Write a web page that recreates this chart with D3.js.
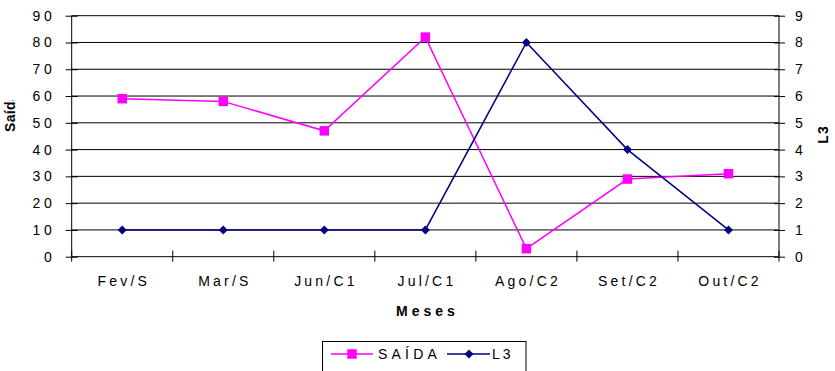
<!DOCTYPE html>
<html>
<head>
<meta charset="utf-8">
<script src="https://cdn.jsdelivr.net/npm/d3@7"></script>
<style>
  html, body { margin: 0; padding: 0; background: #fff; }
  svg { display: block; font-family: "Liberation Sans", Arial, sans-serif; }
</style>
</head>
<body>
<svg id="chart" width="835" height="371"></svg>
<script>
const categories = ["Fev/S", "Mar/S", "Jun/C1", "Jul/C1", "Ago/C2", "Set/C2", "Out/C2"];
const saidaValues = [59, 58, 47, 82, 3, 29, 31];
const l3Values = [1, 1, 1, 1, 8, 4, 1];
const leftTicks = [0, 10, 20, 30, 40, 50, 60, 70, 80, 90];
const rightTicks = [0, 1, 2, 3, 4, 5, 6, 7, 8, 9];

const svg = d3.select("#chart");
const L = 71.7, R = 779, T = 15.7, B = 256.7;

const x = d3.scaleBand().domain(categories).range([L, R]);
const yL = d3.scaleLinear().domain([0, 90]).range([B, T]);
const yR = d3.scaleLinear().domain([0, 9]).range([B, T]);

// gridlines
svg.append("g").selectAll("line").data(leftTicks.slice(1)).join("line")
  .attr("x1", L).attr("x2", R)
  .attr("y1", d => yL(d)).attr("y2", d => yL(d))
  .attr("stroke", "#000").attr("stroke-width", 1);

const tickStyle = g => {
  g.select(".domain").remove();
  g.selectAll(".tick line").attr("stroke", "#000");
  g.selectAll(".tick text").attr("fill", "#000")
    .style("font-size", "14px").style("letter-spacing", "3.5px");
};

// left axis
svg.append("g").attr("transform", `translate(${L},0)`)
  .call(d3.axisLeft(yL).tickValues(leftTicks).tickSize(6).tickPadding(14))
  .call(tickStyle)
  .call(g => g.selectAll(".tick line").attr("x2", 6).attr("x1", -6))
  .call(g => g.selectAll(".tick text").attr("dx", "3.5px"));

// right axis
svg.append("g").attr("transform", `translate(${R},0)`)
  .call(d3.axisRight(yR).tickValues(rightTicks).tickSize(6).tickPadding(10))
  .call(tickStyle)
  .call(g => g.selectAll(".tick line").attr("x1", -5).attr("x2", 6));

// axis lines
svg.append("line").attr("x1", L).attr("x2", L).attr("y1", T).attr("y2", B).attr("stroke", "#000");
svg.append("line").attr("x1", R).attr("x2", R).attr("y1", T).attr("y2", B).attr("stroke", "#000");
svg.append("line").attr("x1", L).attr("x2", R).attr("y1", B).attr("y2", B).attr("stroke", "#000");

// x ticks at band boundaries
const bounds = categories.map(c => x(c)).concat([R]);
svg.append("g").selectAll("line").data(bounds).join("line")
  .attr("x1", d => d).attr("x2", d => d)
  .attr("y1", B - 6).attr("y2", B + 5)
  .attr("stroke", "#000");

// x labels
svg.append("g").selectAll("text").data(categories).join("text")
  .attr("x", d => x(d) + x.bandwidth() / 2 + 1.6)
  .attr("y", 286)
  .attr("text-anchor", "middle")
  .style("font-size", "14px").style("letter-spacing", "3.2px")
  .text(d => d);

// axis titles
svg.append("text").attr("x", 427.5).attr("y", 315.5).attr("text-anchor", "middle")
  .style("font-size", "14px").style("font-weight", "bold").style("letter-spacing", "4px")
  .text("Meses");

svg.append("defs").append("clipPath").attr("id", "clipS")
  .append("rect").attr("x", 0).attr("y", 100.5).attr("width", 30).attr("height", 60);
svg.append("g").attr("clip-path", "url(#clipS)")
  .append("text").attr("transform", "translate(14.5,132) rotate(-90)")
  .attr("text-anchor", "start")
  .style("font-size", "14px").style("font-weight", "bold").style("letter-spacing", "0.3px")
  .text("Saída");

svg.append("text").attr("transform", "translate(828,134.5) rotate(-90)")
  .attr("text-anchor", "middle")
  .style("font-size", "14px").style("font-weight", "bold").style("letter-spacing", "1px")
  .text("L3");

// series
const cx = d => x(d) + x.bandwidth() / 2;
const lineL = d3.line().x((d, i) => cx(categories[i])).y(d => yL(d));
const lineR = d3.line().x((d, i) => cx(categories[i])).y(d => yR(d));

svg.append("path").attr("d", lineL(saidaValues)).attr("fill", "none")
  .attr("stroke", "#FF00FF").attr("stroke-width", 1.5);
svg.append("path").attr("d", lineR(l3Values)).attr("fill", "none")
  .attr("stroke", "#000080").attr("stroke-width", 1.5);

const sq = 9.5;
svg.append("g").selectAll("rect").data(saidaValues).join("rect")
  .attr("x", (d, i) => cx(categories[i]) - sq / 2)
  .attr("y", d => yL(d) - sq / 2)
  .attr("width", sq).attr("height", sq)
  .attr("fill", "#FF00FF");

const diamond = (cxv, cyv) => `M${cxv},${cyv - 4.5}L${cxv + 4.5},${cyv}L${cxv},${cyv + 4.5}L${cxv - 4.5},${cyv}Z`;
svg.append("g").selectAll("path").data(l3Values).join("path")
  .attr("d", (d, i) => diamond(cx(categories[i]), yR(d)))
  .attr("fill", "#000080");

// legend
const lg = svg.append("g");
lg.append("rect").attr("x", 322.5).attr("y", 341.5).attr("width", 203.5).attr("height", 30)
  .attr("fill", "#fff").attr("stroke", "#000");
lg.append("line").attr("x1", 331).attr("x2", 373).attr("y1", 354).attr("y2", 354)
  .attr("stroke", "#FF00FF").attr("stroke-width", 1.5);
lg.append("rect").attr("x", 352 - sq / 2).attr("y", 354 - sq / 2).attr("width", sq).attr("height", sq)
  .attr("fill", "#FF00FF");
lg.append("text").attr("x", 378).attr("y", 359).style("font-size", "14px").style("letter-spacing", "4.2px")
  .text("SAÍDA");
lg.append("line").attr("x1", 447).attr("x2", 490).attr("y1", 354).attr("y2", 354)
  .attr("stroke", "#000080").attr("stroke-width", 1.5);
lg.append("path").attr("d", diamond(469, 354)).attr("fill", "#000080");
lg.append("text").attr("x", 492).attr("y", 359).style("font-size", "14px").style("letter-spacing", "3px")
  .text("L3");
</script>
</body>
</html>
